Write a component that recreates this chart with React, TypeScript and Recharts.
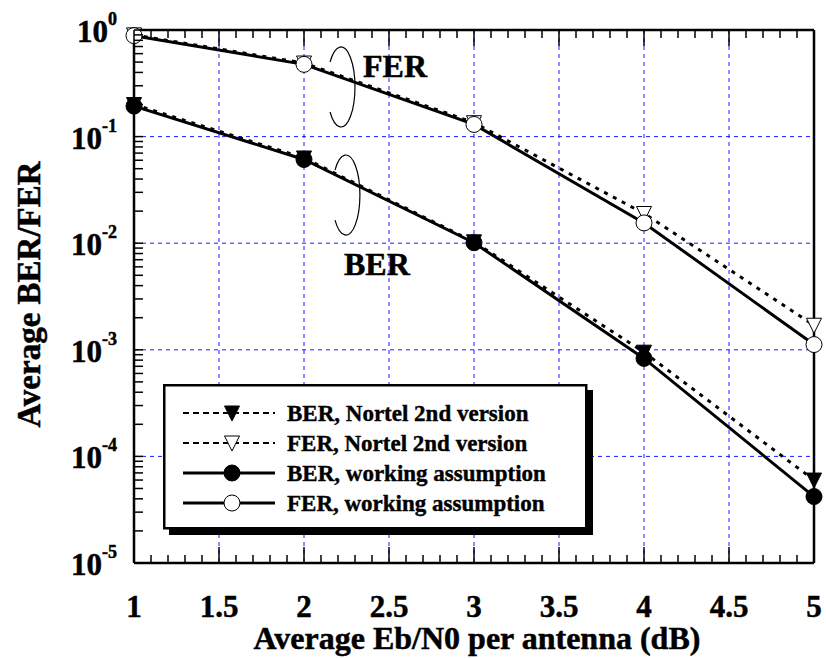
import { LineChart, Line, XAxis, YAxis, CartesianGrid, Legend, ReferenceDot } from 'recharts';

const FONT = '"Liberation Serif", "Times New Roman", Times, serif';

// Eb/N0 (dB) and the four curves
const EBN0 = [1, 2, 3, 4, 5];
const BER_NORTEL = [0.2, 0.063, 0.0103, 0.00095, 0.00006];
const FER_NORTEL = [0.9, 0.49, 0.135, 0.019, 0.0017];
const BER_WORKING = [0.193, 0.061, 0.0101, 0.00083, 0.000042];
const FER_WORKING = [0.885, 0.476, 0.13, 0.0155, 0.00112];

const X_TICKS = [1, 1.5, 2, 2.5, 3, 3.5, 4, 4.5, 5];
const X_TICK_LABELS = ['1', '1.5', '2', '2.5', '3', '3.5', '4', '4.5', '5'];
const Y_DECADES = [1e-5, 1e-4, 1e-3, 1e-2, 1e-1, 1];
const Y_EXPONENTS = ['-5', '-4', '-3', '-2', '-1', '0'];

const X_MINOR: number[] = [];
for (let i = 0; i <= 40; i++) X_MINOR.push(Math.round((1 + i * 0.1) * 10) / 10);
const Y_MINOR: number[] = [];
for (let k = -5; k < 0; k++) for (let m = 1; m <= 9; m++) Y_MINOR.push(m * Math.pow(10, k));
Y_MINOR.push(1);

const data = EBN0.map((x, i) => ({
  x,
  berNortel: BER_NORTEL[i],
  ferNortel: FER_NORTEL[i],
  berWorking: BER_WORKING[i],
  ferWorking: FER_WORKING[i],
}));

const SERIES = [
  { key: 'berNortel', name: 'BER, Nortel 2nd version', dashed: true, marker: 'triFilled' },
  { key: 'ferNortel', name: 'FER, Nortel 2nd version', dashed: true, marker: 'triOpen' },
  { key: 'berWorking', name: 'BER, working assumption', dashed: false, marker: 'circFilled' },
  { key: 'ferWorking', name: 'FER, working assumption', dashed: false, marker: 'circOpen' },
];

// bold text in the reference is heavy, so add a thin outline
const BOLD = { fontFamily: FONT, fontWeight: 'bold' as const, fill: '#000', stroke: '#000', strokeWidth: 0.5 };

function Marker({ cx, cy, kind }: { cx: number; cy: number; kind: string }) {
  if (cx == null || cy == null) return null;
  if (kind === 'triFilled' || kind === 'triOpen') {
    const fill = kind === 'triFilled' ? '#000' : '#fff';
    return (
      <path
        d={`M${cx - 7.5},${cy - 7} L${cx + 7.5},${cy - 7} L${cx},${cy + 8} Z`}
        fill={fill}
        stroke="#000"
        strokeWidth={1}
      />
    );
  }
  const fill = kind === 'circFilled' ? '#000' : '#fff';
  return <circle cx={cx} cy={cy} r={8} fill={fill} stroke="#000" strokeWidth={1} />;
}

const isHalf = (v: number) => Math.abs(v * 2 - Math.round(v * 2)) < 1e-6;

function BottomTick(props: any) {
  const { x, y, payload } = props;
  const v = payload.value;
  const major = isHalf(v);
  const idx = X_TICKS.findIndex((t) => Math.abs(t - v) < 1e-6);
  return (
    <g>
      <line x1={x} x2={x} y1={y} y2={y - (major ? 16 : 8)} stroke="#000" strokeWidth={1.5} />
      {idx >= 0 && (
        <text x={x} y={y + 54} textAnchor="middle" fontSize={31} {...BOLD}>
          {X_TICK_LABELS[idx]}
        </text>
      )}
    </g>
  );
}

function TopTick(props: any) {
  const { x, y, payload } = props;
  const major = isHalf(payload.value);
  return <line x1={x} x2={x} y1={y} y2={y + (major ? 16 : 8)} stroke="#000" strokeWidth={1.5} />;
}

function LeftTick(props: any) {
  const { x, y, payload } = props;
  const idx = Y_DECADES.findIndex((t) => Math.abs(Math.log10(t) - Math.log10(payload.value)) < 1e-6);
  return (
    <g>
      <line x1={x} x2={x + 9} y1={y} y2={y} stroke="#000" strokeWidth={1.5} />
      {idx >= 0 && (
        <text x={x - 17} y={y + 12} textAnchor="end" fontSize={31} {...BOLD}>
          <tspan>10</tspan>
          <tspan dy={-17} fontSize={18}>
            {Y_EXPONENTS[idx]}
          </tspan>
        </text>
      )}
    </g>
  );
}

function RightTick(props: any) {
  const { x, y } = props;
  return <line x1={x} x2={x - 9} y1={y} y2={y} stroke="#000" strokeWidth={1.5} />;
}

function Loop(props: any) {
  const { cx, cy } = props;
  return (
    <path
      d={`M${cx - 11},${cy - 25} A14 40 0 1 1 ${cx - 11},${cy + 25}`}
      fill="none"
      stroke="#000"
      strokeWidth={1.2}
    />
  );
}

function Tag(text: string) {
  return (props: any) => (
    <text x={props.cx} y={props.cy} fontSize={32} {...BOLD}>
      {text}
    </text>
  );
}

function LegendBox() {
  return (
    <svg width={432} height={152} style={{ display: 'block' }}>
      <rect x={6} y={6} width={424} height={145} fill="#000" />
      <rect x={1.25} y={1.25} width={422} height={143} fill="#fff" stroke="#000" strokeWidth={2.5} />
      {SERIES.map((s, i) => {
        const cy = 29 + i * 30;
        return (
          <g key={s.key}>
            <line
              x1={20}
              x2={112}
              y1={cy}
              y2={cy}
              stroke="#000"
              strokeWidth={s.dashed ? 2 : 3}
              strokeDasharray={s.dashed ? '6 4' : undefined}
            />
            <Marker cx={69} cy={cy} kind={s.marker} />
            <text x={124} y={cy + 8} fontSize={23} {...BOLD} strokeWidth={0.4}>
              {s.name}
            </text>
          </g>
        );
      })}
    </svg>
  );
}

export default function App() {
  return (
    <div style={{ position: 'absolute', left: 0, top: 0, width: 826, height: 658, background: '#fff' }}>
      <LineChart width={826} height={658} data={data} margin={{ top: 0, right: 0, bottom: 0, left: 0 }}>
        <CartesianGrid
          stroke="#1a1aff"
          strokeWidth={1}
          strokeDasharray="4 4"
          horizontalValues={Y_DECADES}
          verticalValues={X_TICKS}
        />
        <XAxis
          dataKey="x"
          type="number"
          domain={[1, 5]}
          ticks={X_MINOR}
          interval={0}
          height={95}
          tickSize={0}
          tickMargin={0}
          tickLine={false}
          tick={<BottomTick />}
          axisLine={{ stroke: '#000', strokeWidth: 2.5 }}
          label={{
            content: (p: any) => {
              const vb = p.viewBox;
              return (
                <text x={vb.x + vb.width / 2 + 3} y={vb.y + 86} textAnchor="middle" fontSize={32} {...BOLD}>
                  Average Eb/N0 per antenna (dB)
                </text>
              );
            },
          }}
        />
        <XAxis
          xAxisId="top"
          orientation="top"
          dataKey="x"
          type="number"
          domain={[1, 5]}
          ticks={X_MINOR}
          interval={0}
          height={30}
          tickSize={0}
          tickMargin={0}
          tickLine={false}
          tick={<TopTick />}
          axisLine={{ stroke: '#000', strokeWidth: 2.5 }}
        />
        <YAxis
          scale="log"
          type="number"
          domain={[1e-5, 1]}
          ticks={Y_MINOR}
          interval={0}
          width={134}
          tickSize={0}
          tickMargin={0}
          tickLine={false}
          tick={<LeftTick />}
          axisLine={{ stroke: '#000', strokeWidth: 2.5 }}
          label={{
            content: (p: any) => {
              const vb = p.viewBox;
              const cx = 40;
              const cy = vb.y + vb.height / 2 - 2;
              return (
                <text x={cx} y={cy} transform={`rotate(-90 ${cx} ${cy})`} textAnchor="middle" fontSize={33} {...BOLD}>
                  Average BER/FER
                </text>
              );
            },
          }}
        />
        <YAxis
          yAxisId="right"
          orientation="right"
          scale="log"
          type="number"
          domain={[1e-5, 1]}
          ticks={Y_MINOR}
          interval={0}
          width={12}
          tickSize={0}
          tickMargin={0}
          tickLine={false}
          tick={<RightTick />}
          axisLine={{ stroke: '#000', strokeWidth: 2.5 }}
        />
        {SERIES.map((s) => (
          <Line
            key={s.key}
            dataKey={s.key}
            name={s.name}
            type="linear"
            stroke="#000"
            strokeWidth={3}
            strokeDasharray={s.dashed ? '4 6' : undefined}
            dot={(p: any) => <Marker key={`${s.key}-${p.index}`} cx={p.cx} cy={p.cy} kind={s.marker} />}
            activeDot={false}
            isAnimationActive={false}
          />
        ))}
        <ReferenceDot x={2.218} y={0.292} r={0} shape={<Loop />} />
        <ReferenceDot x={2.247} y={0.0283} r={0} shape={<Loop />} />
        <ReferenceDot x={2.347} y={0.362} r={0} shape={Tag('FER')} />
        <ReferenceDot x={2.235} y={0.00503} r={0} shape={Tag('BER')} />
        <Legend
          layout="horizontal"
          verticalAlign="middle"
          align="center"
          wrapperStyle={{ left: 163, top: 384, width: 432, height: 152 }}
          content={() => <LegendBox />}
        />
      </LineChart>
    </div>
  );
}
